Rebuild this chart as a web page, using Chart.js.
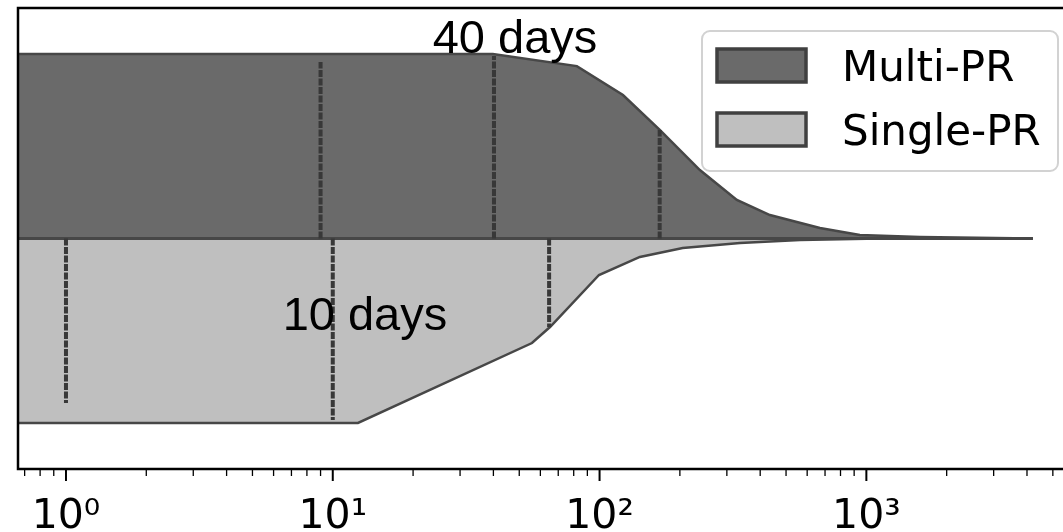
<!DOCTYPE html>
<html><head><meta charset="utf-8">
<script src="https://cdn.jsdelivr.net/npm/chart.js@4.4.0/dist/chart.umd.min.js"></script>
<style>html,body{margin:0;padding:0;background:#fff;overflow:hidden}canvas{display:block}</style>
</head><body>
<canvas id="c" width="1063" height="532"></canvas>
<script>
// ---- data ----
const seriesNames = ['Multi-PR', 'Single-PR'];
// duration (days) along the violin outline, and the half-width of the density there
const multiX = [0.661, 39.8, 82.2, 122.4, 168.5, 237.7, 327, 435, 670, 946, 1589, 4210];
const multiW = [1.0, 1.0, 0.935, 0.778, 0.588, 0.371, 0.209, 0.127, 0.057, 0.019, 0.008, 0.0];
const singleX = [0.661, 12.43, 55.8, 65.2, 99.5, 141.6, 205, 336, 564, 1125];
const singleW = [1.0, 1.0, 0.567, 0.480, 0.198, 0.100, 0.052, 0.024, 0.008, 0.0];
// quartiles (Q1, median, Q3) and the density height at each
const multiQuartiles = [9.0, 40.2, 168];
const multiQuartileW = [0.957, 0.99, 0.588];
const singleQuartiles = [1.0, 10.0, 64.7];
const singleQuartileW = [0.892, 0.984, 0.48];
// axis ticks
const majorTicks = [1, 10, 100, 1000];
const tickLabels = ['10\u2070', '10\u00B9', '10\u00B2', '10\u00B3'];
const minorTicks = [0.7, 0.8, 0.9, 2, 3, 4, 5, 6, 7, 8, 9, 20, 30, 40, 50, 60, 70, 80, 90,
                    200, 300, 400, 500, 600, 700, 800, 900, 2000, 3000, 4000, 5000];
// annotations
const notes = ['40 days', '10 days'];
const noteX = [48.2, 13.2];
const noteY = [1.006, -0.496];

// ---- styles ----
const FILLS = ['#6a6a6a', '#bfbfbf'];
const EDGE = '#474747';
const QCOL = '#383838';
const X_MIN = 0.661, X_MAX = 5458;

const toPts = (xs, ws, sign) => xs.map((x, i) => ({x: x, y: sign * ws[i]}));
const datasets = [];
datasets.push({label: seriesNames[0], data: toPts(multiX, multiW, 1), fill: 'origin',
  backgroundColor: FILLS[0], borderColor: EDGE, borderWidth: 2.5, pointRadius: 0, tension: 0, order: 5});
datasets.push({label: seriesNames[1], data: toPts(singleX, singleW, -1), fill: 'origin',
  backgroundColor: FILLS[1], borderColor: EDGE, borderWidth: 2.5, pointRadius: 0, tension: 0, order: 5});
datasets.push({label: 'center', data: [{x: X_MIN, y: 0}, {x: multiX[multiX.length - 1], y: 0}],
  borderColor: EDGE, borderWidth: 3, pointRadius: 0, fill: false, order: 3});
multiQuartiles.forEach((q, i) => datasets.push({label: 'mq' + i,
  data: [{x: q, y: 0}, {x: q, y: multiQuartileW[i]}], borderColor: QCOL, borderWidth: 4,
  borderDash: [7, 1.5], pointRadius: 0, fill: false, order: 1}));
singleQuartiles.forEach((q, i) => datasets.push({label: 'sq' + i,
  data: [{x: q, y: 0}, {x: q, y: -singleQuartileW[i]}], borderColor: QCOL, borderWidth: 4,
  borderDash: [7, 1.5], pointRadius: 0, fill: false, order: 1}));

const decor = {
  id: 'decor',
  afterDraw(chart) {
    const ctx = chart.ctx, a = chart.chartArea, xs = chart.scales.x, ys = chart.scales.y;
    ctx.save();
    // annotations
    ctx.fillStyle = '#000';
    ctx.font = '47px "Liberation Sans", Arial, sans-serif';
    ctx.textAlign = 'center';
    ctx.textBaseline = 'alphabetic';
    notes.forEach((t, i) => ctx.fillText(t, xs.getPixelForValue(noteX[i]), ys.getPixelForValue(noteY[i])));
    // frame
    ctx.strokeStyle = '#000';
    ctx.lineWidth = 2.5;
    ctx.beginPath();
    ctx.moveTo(a.right + 20, a.top); ctx.lineTo(a.left, a.top);
    ctx.lineTo(a.left, a.bottom); ctx.lineTo(a.right + 20, a.bottom);
    ctx.stroke();
    // tick marks
    xs.ticks.forEach(t => {
      const px = xs.getPixelForValue(t.value);
      if (px < a.left - 1 || px > a.right + 1) return;
      const major = majorTicks.includes(t.value);
      ctx.lineWidth = major ? 2 : 1.3;
      ctx.beginPath();
      ctx.moveTo(px, a.bottom);
      ctx.lineTo(px, a.bottom + (major ? 12 : 7));
      ctx.stroke();
    });
    // legend
    const L = {x: 702, y: 31, w: 356, h: 140, r: 8};
    ctx.beginPath();
    ctx.roundRect(L.x, L.y, L.w, L.h, L.r);
    ctx.fillStyle = 'rgba(255,255,255,0.85)';
    ctx.fill();
    ctx.strokeStyle = '#d2d2d2';
    ctx.lineWidth = 2;
    ctx.stroke();
    ctx.font = '42px "DejaVu Sans", sans-serif';
    ctx.textAlign = 'left';
    ctx.textBaseline = 'alphabetic';
    [0, 1].forEach(i => {
      const ds = chart.data.datasets[i];
      const py = 48 + i * 64;
      ctx.fillStyle = ds.backgroundColor;
      ctx.fillRect(717, py + 1, 89, 33);
      ctx.strokeStyle = '#404040';
      ctx.lineWidth = 3.5;
      ctx.strokeRect(717, py + 1, 89, 33);
      ctx.fillStyle = '#000';
      ctx.fillText(ds.label, 842, py + 33);
    });
    ctx.restore();
  }
};

new Chart(document.getElementById('c'), {
  type: 'line',
  data: {datasets: datasets},
  options: {
    responsive: false,
    animation: false,
    devicePixelRatio: 1,
    layout: {padding: {left: 18, top: 8, right: 0, bottom: 0}},
    plugins: {legend: {display: false}, tooltip: {enabled: false}},
    scales: {
      x: {
        type: 'logarithmic', min: X_MIN, max: X_MAX,
        afterBuildTicks: s => { s.ticks = majorTicks.concat(minorTicks).sort((p, q) => p - q).map(v => ({value: v})); },
        afterFit: s => { s.height = 63; },
        grid: {display: true, drawOnChartArea: false, drawTicks: true, tickLength: 24, tickColor: 'rgba(0,0,0,0)'},
        border: {display: false},
        ticks: {
          autoSkip: false, maxRotation: 0, padding: 0,
          color: '#000',
          font: {family: '"DejaVu Sans", sans-serif', size: 41},
          callback: v => { const k = majorTicks.indexOf(v); return k >= 0 ? tickLabels[k] : ''; }
        }
      },
      y: {type: 'linear', min: -1.25, max: 1.25, display: false}
    }
  },
  plugins: [decor]
});
</script>
</body></html>
